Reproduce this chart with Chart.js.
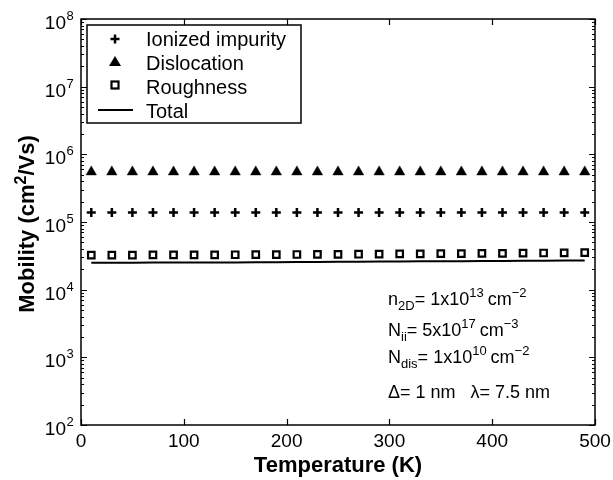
<!DOCTYPE html>
<html>
<head>
<meta charset="utf-8">
<script src="https://cdn.jsdelivr.net/npm/chart.js@4/dist/chart.umd.min.js"></script>
<style>
html,body{margin:0;padding:0;background:#fff;}
#c{display:block;}
</style>
</head>
<body>
<canvas id="c" width="613" height="480"></canvas>
<script>
// ---- data ----
const temperatures = [10,30,50,70,90,110,130,150,170,190,210,230,250,270,290,310,330,350,370,390,410,430,450,470,490];
const ionizedImpurity = [138000,138000,138000,138000,138000,138000,138000,138000,138000,138000,138000,138000,138000,138000,138000,138000,138000,138000,138000,138000,138000,138000,138000,138000,138000];
const dislocation = [550000,550000,550000,550000,550000,550000,550000,550000,550000,550000,550000,550000,550000,550000,550000,550000,550000,550000,550000,550000,550000,550000,550000,550000,550000];
const roughness = [32500,32500,32500,32600,32600,32700,32700,32800,32900,33000,33100,33200,33300,33400,33500,33700,33800,34000,34100,34300,34400,34600,34800,35000,35200];
const total = [25000,25000,25000,25100,25100,25200,25200,25300,25400,25500,25600,25700,25800,25900,26000,26100,26200,26300,26400,26500,26600,26700,26800,26900,27000];
const xTicks = [0,100,200,300,400,500];
const yTickExponents = [2,3,4,5,6,7,8];
const legendLabels = ["Ionized impurity","Dislocation","Roughness","Total"];
const xTitle = "Temperature (K)";

const FONT = '"Liberation Sans", Arial, Helvetica, sans-serif';

function pts(ys){ return temperatures.map((t,i)=>({x:t,y:ys[i]})); }

function drawRich(ctx, x, y, parts, size){
  let cx = x;
  for (const p of parts){
    let fs = size, dy = 0;
    if (p.k==='sub'){ fs = Math.round(size*0.72); dy = 5; }
    if (p.k==='sup'){ fs = Math.round(size*0.72); dy = -8; }
    ctx.font = (p.b?'bold ':'') + fs + 'px ' + FONT;
    ctx.fillText(p.t, cx, y+dy);
    cx += ctx.measureText(p.t).width + (p.gap||0);
  }
  return cx;
}

const framePlugin = {
  id:'frame',
  afterDraw(chart){
    const ctx = chart.ctx;
    const a = chart.chartArea;
    const xs = chart.scales.x, ys = chart.scales.y;
    ctx.save();
    ctx.strokeStyle='#000'; ctx.fillStyle='#000';
    // frame
    ctx.lineWidth = 1.5;
    ctx.strokeRect(a.left, a.top, a.right-a.left, a.bottom-a.top);
    // x ticks
    ctx.lineWidth = 1.2;
    ctx.beginPath();
    for (const v of xTicks){
      const px = Math.round(xs.getPixelForValue(v))+0.5;
      ctx.moveTo(px, a.bottom); ctx.lineTo(px, a.bottom-6);
      ctx.moveTo(px, a.top); ctx.lineTo(px, a.top+6);
    }
    // y ticks
    for (const e of yTickExponents){
      const py = Math.round(ys.getPixelForValue(Math.pow(10,e)))+0.5;
      ctx.moveTo(a.left, py); ctx.lineTo(a.left+6, py);
      ctx.moveTo(a.right, py); ctx.lineTo(a.right-6, py);
      if (e < yTickExponents[yTickExponents.length-1]){
        for (let m=2;m<=9;m++){
          const q = Math.round(ys.getPixelForValue(m*Math.pow(10,e)))+0.5;
          ctx.moveTo(a.left, q); ctx.lineTo(a.left+3, q);
          ctx.moveTo(a.right, q); ctx.lineTo(a.right-3, q);
        }
      }
    }
    ctx.stroke();
    // x tick labels
    ctx.font = '19px ' + FONT;
    ctx.textAlign='center'; ctx.textBaseline='alphabetic';
    for (const v of xTicks){
      ctx.fillText(String(v), xs.getPixelForValue(v), 447);
    }
    // y tick labels
    for (const e of yTickExponents){
      const py = ys.getPixelForValue(Math.pow(10,e));
      ctx.font = '19px ' + FONT;
      ctx.textAlign='right';
      ctx.fillText('10', 66, py+10);
      ctx.font = '13px ' + FONT;
      ctx.textAlign='left';
      ctx.fillText(String(e), 66.5, py+1);
    }
    // x title
    ctx.font = 'bold 22px ' + FONT;
    ctx.textAlign='center';
    ctx.fillText(xTitle, (a.left+a.right)/2, 472);
    // y title
    ctx.save();
    ctx.translate(34, 224);
    ctx.rotate(-Math.PI/2);
    ctx.textAlign='left';
    const TS = 22;
    const yParts = [{t:'Mobility (cm',b:true},{t:'2',b:true,k:'sup'},{t:'/Vs)',b:true}];
    let w=0;
    for (const p of yParts){ const fs = p.k?Math.round(TS*0.72):TS; ctx.font='bold '+fs+'px '+FONT; w+=ctx.measureText(p.t).width; }
    drawRich(ctx, -w/2, 0, yParts, TS);
    ctx.restore();

    // legend box
    ctx.lineWidth = 1.5;
    ctx.fillStyle='#fff';
    ctx.fillRect(87, 25, 214, 98);
    ctx.strokeRect(87, 25, 214, 98);
    ctx.fillStyle='#000';
    ctx.font = '20px ' + FONT;
    ctx.textAlign='left';
    const baselines = [46,70,94,118];
    legendLabels.forEach((lab,i)=>ctx.fillText(lab, 146, baselines[i]));
    // legend markers
    ctx.lineWidth = 2.5;
    ctx.beginPath();
    ctx.moveTo(110.5, 39); ctx.lineTo(119.5, 39);
    ctx.moveTo(115, 34.5); ctx.lineTo(115, 43.5);
    ctx.stroke();
    ctx.beginPath();
    ctx.moveTo(115, 56); ctx.lineTo(121, 66); ctx.lineTo(109, 66); ctx.closePath();
    ctx.fill();
    ctx.lineWidth = 2.2;
    ctx.strokeRect(111.5, 81.5, 7, 7);
    ctx.lineWidth = 2;
    ctx.beginPath();
    ctx.moveTo(98, 110); ctx.lineTo(133, 110);
    ctx.stroke();

    // annotation
    ctx.textAlign='left';
    const S = 18;
    drawRich(ctx, 388, 305, [{t:'n'},{t:'2D',k:'sub'},{t:'= 1x10'},{t:'13',k:'sup',gap:4},{t:'cm'},{t:'\u22122',k:'sup'}], S);
    drawRich(ctx, 388, 336, [{t:'N'},{t:'ii',k:'sub'},{t:'= 5x10'},{t:'17',k:'sup',gap:4},{t:'cm'},{t:'\u22123',k:'sup'}], S);
    drawRich(ctx, 388, 363, [{t:'N'},{t:'dis',k:'sub'},{t:'= 1x10'},{t:'10',k:'sup',gap:4},{t:'cm'},{t:'\u22122',k:'sup'}], S);
    drawRich(ctx, 388, 398, [{t:'\u0394= 1 nm   \u03bb= 7.5 nm'}], S);
    ctx.restore();
  }
};

new Chart(document.getElementById('c'), {
  type:'line',
  data:{
    datasets:[
      {label:legendLabels[0], data:pts(ionizedImpurity), showLine:false, pointStyle:'cross', pointRadius:4.5, borderWidth:2.5, borderColor:'#000', backgroundColor:'#000'},
      {label:legendLabels[1], data:pts(dislocation), showLine:false, pointStyle:'triangle', pointRadius:6, borderWidth:0.5, borderColor:'#000', backgroundColor:'#000'},
      {label:legendLabels[2], data:pts(roughness), showLine:false, pointStyle:'rect', pointRadius:4.6, borderWidth:2.2, borderColor:'#000', backgroundColor:'#fff'},
      {label:legendLabels[3], data:pts(total), pointRadius:0, borderWidth:2, borderColor:'#000', tension:0, fill:false}
    ]
  },
  options:{
    responsive:false, animation:false,
    layout:{padding:{left:81, top:19, right:18, bottom:55}},
    plugins:{legend:{display:false}, tooltip:{enabled:false}},
    scales:{
      x:{type:'linear', min:0, max:500, display:false},
      y:{type:'logarithmic', min:100, max:1e8, display:false}
    }
  },
  plugins:[framePlugin]
});
</script>
</body>
</html>
